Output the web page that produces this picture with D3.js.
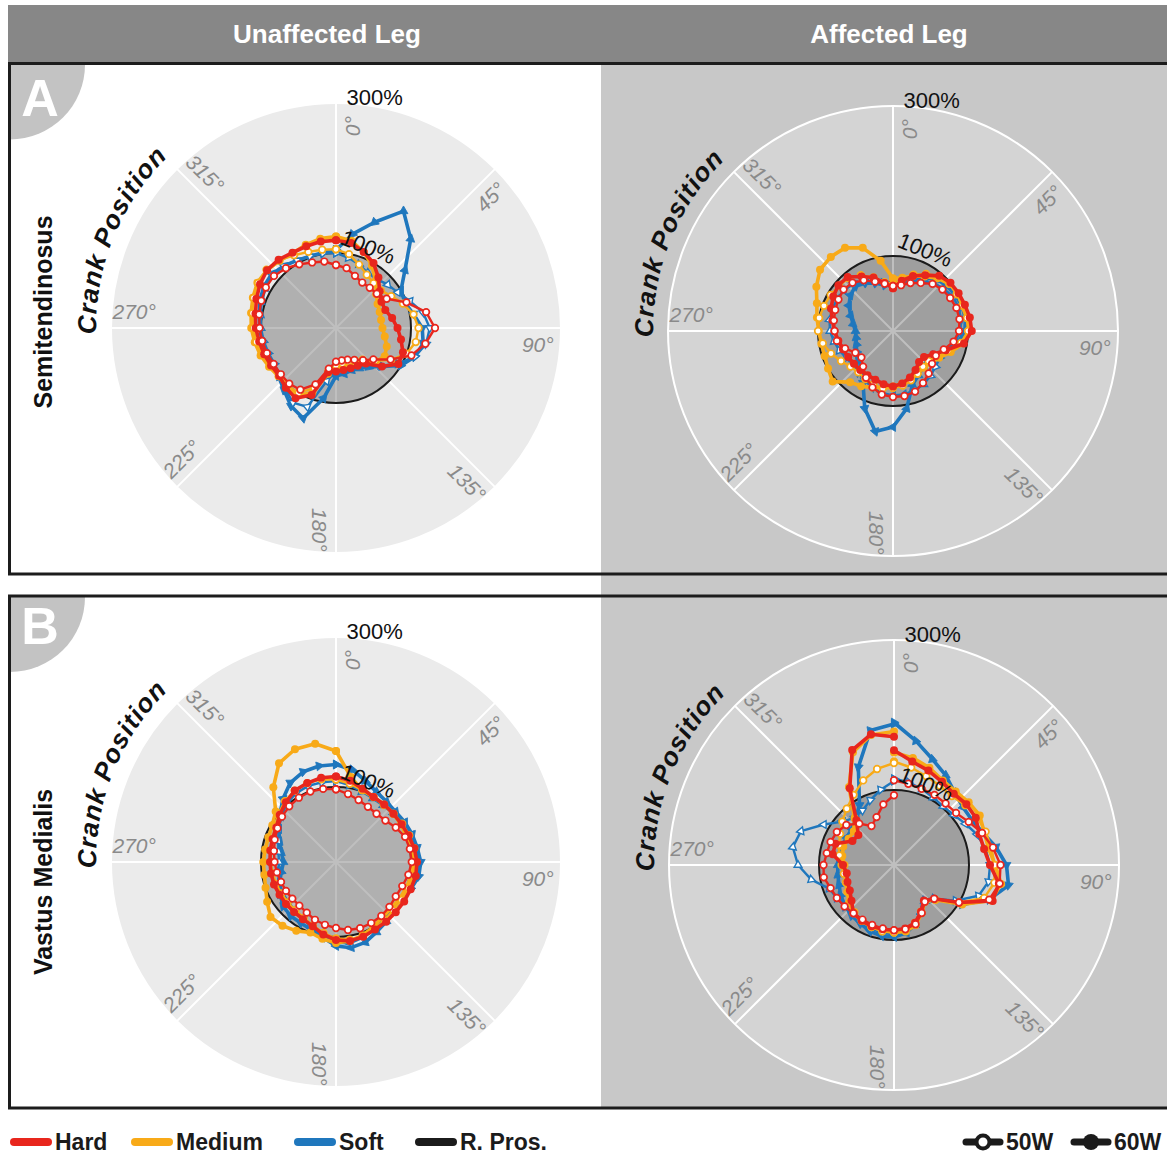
<!DOCTYPE html>
<html>
<head>
<meta charset="utf-8">
<script src="https://cdn.jsdelivr.net/npm/d3@7"></script>
<style>
  body { margin: 0; background: #fff; }
  svg { display: block; font-family: "Liberation Sans", Arial, Helvetica, sans-serif; }
</style>
</head>
<body>
<svg id="fig" width="1167" height="1155"></svg>
<script>
// ---- Crank angles (deg) at which activation is sampled ----
const angles = d3.range(0, 361, 10);

// ---- Labels ----
const columnTitles = ["Unaffected Leg", "Affected Leg"];
const muscleNames = ["Semitendinosus", "Vastus Medialis"];
const panelLetters = ["A", "B"];
const angleTicks = [0, 45, 90, 135, 180, 225, 270, 315];
const radialTicks = [100, 300];
const conditions = ["Hard", "Medium", "Soft"];
const powers = ["50W", "60W"];
const legendItems = ["Hard", "Medium", "Soft", "R. Pros."];

// ---- Normalised EMG (% of reference), Semitendinosus, unaffected leg ----
const semiUnaffHard50   = [84,81,74,70,70,71,78,100,122,132,121,107,84,65,56,49,45,44,45,55,80,95,97,96,96,98,100,102,104,106,108,108,104,98,93,90,84];
const semiUnaffHard60   = [117,115,108,100,88,76,70,70,76,82,88,95,96,80,62,58,57,57,58,60,95,108,104,99,100,102,104,107,109,113,117,120,119,116,116,117,117];
const semiUnaffMedium50 = [105,100,90,82,78,78,85,95,105,110,108,100,85,68,55,50,48,48,50,58,85,100,100,98,100,104,108,110,113,117,120,121,118,112,108,106,105];
const semiUnaffMedium60 = [122,118,108,96,82,70,64,62,61,62,66,72,75,70,60,52,50,50,53,62,92,104,102,100,103,107,110,113,115,118,121,120,117,115,118,121,122];
const semiUnaffSoft50   = [100,95,90,85,85,90,95,105,118,125,122,112,95,78,64,58,56,56,58,72,112,115,105,98,95,96,98,100,102,105,108,110,108,104,102,101,100];
const semiUnaffSoft60   = [104,127,150,180,155,120,100,98,105,115,118,112,100,80,68,62,60,62,64,95,128,120,108,100,97,98,100,102,104,108,111,112,108,104,102,102,104];

// ---- Semitendinosus, affected leg ----
const semiAffHard50   = [60,62,68,74,82,86,88,90,90,88,82,72,66,68,74,80,86,88,88,86,80,72,62,55,58,68,76,78,80,82,84,86,84,78,70,64,60];
const semiAffHard60   = [57,68,78,86,96,100,101,102,104,105,96,75,62,54,54,60,66,71,74,72,69,68,68,68,69,71,74,78,82,88,92,95,94,84,76,65,57];
const semiAffMedium50 = [62,70,80,88,95,98,98,99,100,100,92,78,68,62,62,66,70,74,76,78,76,74,72,74,80,88,95,100,100,98,96,94,92,86,76,66,62];
const semiAffMedium60 = [70,72,78,84,92,98,100,98,100,103,95,82,71,66,64,65,68,71,74,77,80,85,89,105,100,97,97,99,103,108,118,127,129,128,118,95,70];
const semiAffSoft50   = [64,66,70,76,84,88,92,93,92,90,84,76,72,74,78,82,84,86,86,84,80,76,72,70,72,76,80,84,86,86,86,85,82,76,70,66,64];
const semiAffSoft60   = [60,66,74,82,90,94,96,98,98,96,88,74,64,60,62,68,76,105,128,136,110,80,64,60,56,52,50,50,54,60,68,74,78,74,68,62,60];

// ---- Vastus Medialis, unaffected leg ----
const vmUnaffHard50   = [97,92,88,85,84,86,92,98,100,101,98,94,92,93,94,94,94,92,88,85,82,78,76,76,77,78,80,82,84,87,90,94,97,99,100,99,97];
const vmUnaffHard60   = [114,110,104,100,100,100,101,103,106,108,108,106,105,104,104,104,106,107,104,98,91,88,87,87,87,88,88,88,89,90,92,98,104,110,112,114,114];
const vmUnaffMedium50 = [110,106,102,100,99,100,102,104,106,106,105,103,101,100,101,103,105,105,102,96,90,86,84,84,84,85,86,87,88,90,94,100,106,110,112,112,110];
const vmUnaffMedium60 = [148,115,102,100,100,100,100,100,102,103,102,100,98,96,96,100,104,107,108,104,100,106,111,114,106,100,97,97,96,96,98,105,130,152,160,160,148];
const vmUnaffSoft50   = [108,104,100,98,98,100,103,106,108,110,108,104,100,99,100,103,107,110,108,100,93,88,85,83,82,80,78,76,78,82,88,95,102,106,108,108,108];
const vmUnaffSoft60   = [130,125,115,108,105,104,106,108,110,113,112,106,100,100,104,108,114,116,112,102,96,94,94,92,86,80,74,70,74,80,88,98,110,122,128,130,130];

// ---- Vastus Medialis, affected leg ----
const vmAffHard50   = [113,110,108,108,107,108,115,125,134,142,143,135,100,70,64,74,84,87,87,86,85,84,84,86,88,90,95,94,91,90,88,83,72,60,68,82,93];
const vmAffHard60   = [153,140,134,128,124,126,126,121,122,128,142,140,100,70,62,72,82,86,87,87,87,86,84,74,68,66,64,68,83,83,64,62,78,118,163,177,171];
const vmAffMedium50 = [138,132,126,122,120,124,128,130,132,134,136,128,100,72,64,72,82,88,90,90,88,86,82,76,70,68,68,70,74,78,83,90,98,108,120,130,136];
const vmAffMedium60 = [150,145,138,130,128,130,132,128,128,135,145,138,105,72,64,74,85,90,90,88,88,86,84,78,72,68,66,66,70,72,70,70,82,120,160,176,178];
const vmAffSoft50   = [115,112,108,104,102,104,110,118,124,128,128,120,95,70,64,72,84,90,92,92,90,88,86,86,88,92,112,128,137,132,108,90,82,84,92,102,112];
const vmAffSoft60   = [190,168,150,138,126,120,120,126,138,150,155,135,105,70,62,72,84,92,96,96,94,90,88,85,82,78,76,75,75,74,73,74,80,92,139,182,188];

// ---- Series tables built from the arrays above ----
const panelSeries = [
  { Hard: [semiUnaffHard50, semiUnaffHard60], Medium: [semiUnaffMedium50, semiUnaffMedium60], Soft: [semiUnaffSoft50, semiUnaffSoft60] },
  { Hard: [semiAffHard50, semiAffHard60],     Medium: [semiAffMedium50, semiAffMedium60],     Soft: [semiAffSoft50, semiAffSoft60] },
  { Hard: [vmUnaffHard50, vmUnaffHard60],     Medium: [vmUnaffMedium50, vmUnaffMedium60],     Soft: [vmUnaffSoft50, vmUnaffSoft60] },
  { Hard: [vmAffHard50, vmAffHard60],         Medium: [vmAffMedium50, vmAffMedium60],         Soft: [vmAffSoft50, vmAffSoft60] }
];

const colors = { Hard: "#e8261d", Medium: "#f8aa18", Soft: "#1f77bd", "R. Pros.": "#1b1b1b" };

const W = 1167, H = 1155;
const svg = d3.select("#fig");

const R = 225;
const rScale = d3.scaleLinear().domain([0, 300]).range([0, R]);
const rad = d => d * Math.PI / 180;

// ---- Background blocks ----
svg.append("rect").attr("width", W).attr("height", H).attr("fill", "#fff");
svg.append("rect").attr("x", 601).attr("y", 62).attr("width", W - 601).attr("height", 1046).attr("fill", "#c8c8c8");
svg.append("rect").attr("x", 8).attr("y", 5).attr("width", W - 8).attr("height", 57).attr("fill", "#878787");

const colCenters = [327, 889];
columnTitles.forEach((t, i) => {
  svg.append("text").attr("x", colCenters[i]).attr("y", 43)
    .attr("text-anchor", "middle").attr("fill", "#fff")
    .attr("font-size", 26).attr("font-weight", "bold").text(t);
});

// ---- Polar panels ----
const layout = [
  { cx: 336, cy: 328, dark: false },
  { cx: 893, cy: 331, dark: true },
  { cx: 336, cy: 862, dark: false },
  { cx: 894, cy: 865, dark: true }
];

const lineRadial = d3.lineRadial()
  .angle((d, i) => rad(angles[i]))
  .radius(d => rScale(d));

const drawOrder = [["Soft", 1], ["Soft", 0], ["Medium", 1], ["Medium", 0], ["Hard", 1], ["Hard", 0]];

layout.forEach((p, pi) => {
  const g = svg.append("g").attr("transform", `translate(${p.cx},${p.cy})`);

  g.append("circle").attr("r", rScale(300))
    .attr("fill", p.dark ? "#d4d4d4" : "#ebebeb")
    .attr("stroke", "#fff").attr("stroke-width", 2);

  angleTicks.forEach(t => {
    const [x, y] = d3.pointRadial(rad(t), rScale(300));
    g.append("line").attr("x1", 0).attr("y1", 0).attr("x2", x).attr("y2", y)
      .attr("stroke", "#fff").attr("stroke-width", 2);
  });

  // Reference prosthesis level (100 %)
  g.append("circle").attr("r", rScale(100))
    .attr("fill", "rgba(0,0,0,0.25)")
    .attr("stroke", colors["R. Pros."]).attr("stroke-width", 2);

  // Angular tick labels
  angleTicks.forEach(t => {
    const [x, y] = d3.pointRadial(rad(t + 4.7), rScale(270));
    let rot = t - 90;
    if (rot > 90) rot -= 180;
    g.append("text")
      .attr("transform", `translate(${x},${y}) rotate(${rot})`)
      .attr("text-anchor", "middle").attr("dominant-baseline", "central")
      .attr("font-size", 21).attr("font-style", "italic").attr("fill", "#8a8a8a")
      .text(t + "°");
  });

  // "Crank Position" along the arc on the left
  const a0 = rad(268.5), a1 = rad(340), rr = 240;
  const [sx, sy] = d3.pointRadial(a0, rr);
  const [ex, ey] = d3.pointRadial(a1, rr);
  const arcId = "crankArc" + pi;
  g.append("path").attr("id", arcId)
    .attr("d", `M${sx},${sy} A${rr},${rr} 0 0 1 ${ex},${ey}`)
    .attr("fill", "none");
  g.append("text").attr("font-size", 26).attr("font-weight", "bold").attr("font-style", "italic")
    .attr("letter-spacing", 1).attr("fill", "#111")
    .append("textPath").attr("href", "#" + arcId).text("Crank Position");

  // Series
  const series = panelSeries[pi];
  drawOrder.forEach(([cond, pw]) => {
    const vals = series[cond][pw];
    const col = colors[cond];
    const filled = pw === 1;
    g.append("path").attr("d", lineRadial(vals))
      .attr("fill", "none").attr("stroke", col)
      .attr("stroke-width", filled ? 3.6 : 2.4)
      .attr("stroke-linejoin", "round");
    const pts = vals.map((v, i) => d3.pointRadial(rad(angles[i]), rScale(v)));
    if (cond === "Soft") {
      const sym = d3.symbol(d3.symbolTriangle).size(filled ? 34 : 26);
      g.selectAll(null).data(pts).join("path")
        .attr("d", sym)
        .attr("transform", (d, i) => `translate(${d[0]},${d[1]}) rotate(${angles[i] + 90})`)
        .attr("fill", filled ? col : "#fff")
        .attr("stroke", col).attr("stroke-width", filled ? 0.8 : 1.4);
    } else {
      g.selectAll(null).data(pts).join("circle")
        .attr("cx", d => d[0]).attr("cy", d => d[1])
        .attr("r", filled ? 4 : 3.3)
        .attr("fill", filled ? col : "#fff")
        .attr("stroke", col).attr("stroke-width", filled ? 0 : 1.7);
    }
  });

  // Radial tick labels
  const [lx3, ly3] = d3.pointRadial(rad(9.5), rScale(312));
  g.append("text").attr("x", lx3).attr("y", ly3)
    .attr("text-anchor", "middle").attr("dominant-baseline", "central")
    .attr("font-size", 22).attr("fill", "#111").text(radialTicks[1] + "%");
  const [lx1, ly1] = d3.pointRadial(rad(21.6), rScale(116));
  g.append("text").attr("transform", `translate(${lx1},${ly1}) rotate(22)`)
    .attr("text-anchor", "middle").attr("dominant-baseline", "central")
    .attr("font-size", 22).attr("fill", "#111").text(radialTicks[0] + "%");
});

// ---- Panel frames, letters and row labels ----
const frames = [{ y: 63.5, h: 510.5 }, { y: 596, h: 512 }];
frames.forEach((f, i) => {
  const x0 = 10, y0 = f.y + 1, rc = 75;
  svg.append("path")
    .attr("d", `M${x0},${y0} L${x0 + rc},${y0} A${rc},${rc} 0 0 1 ${x0},${y0 + rc} Z`)
    .attr("fill", "#c3c3c3");
  svg.append("text").attr("x", 40).attr("y", f.y + (i === 0 ? 52 : 48))
    .attr("text-anchor", "middle").attr("fill", "#fff")
    .attr("font-size", 52).attr("font-weight", "bold").text(panelLetters[i]);
  svg.append("rect").attr("x", 9.5).attr("y", f.y).attr("width", W + 20).attr("height", f.h)
    .attr("fill", "none").attr("stroke", "#1c1c1c").attr("stroke-width", 3);
});

const rowCenters = [312, 882];
muscleNames.forEach((m, i) => {
  svg.append("text").attr("transform", `translate(52,${rowCenters[i]}) rotate(-90)`)
    .attr("text-anchor", "middle").attr("fill", "#111")
    .attr("font-size", 25).attr("font-weight", "bold").text(m);
});

// ---- Legend ----
const ly = 1142;
const legX = [14, 135, 298, 419];
legendItems.forEach((name, i) => {
  svg.append("line").attr("x1", legX[i]).attr("x2", legX[i] + 34).attr("y1", ly).attr("y2", ly)
    .attr("stroke", colors[name]).attr("stroke-width", 8).attr("stroke-linecap", "round");
  svg.append("text").attr("x", legX[i] + 41).attr("y", ly + 8)
    .attr("font-size", 23).attr("font-weight", "bold").attr("fill", "#1b1b1b").text(name);
});
const powX = [966, 1074];
powers.forEach((pw, i) => {
  const x = powX[i];
  svg.append("line").attr("x1", x).attr("x2", x + 34).attr("y1", ly).attr("y2", ly)
    .attr("stroke", "#1b1b1b").attr("stroke-width", 7).attr("stroke-linecap", "round");
  svg.append("circle").attr("cx", x + 17).attr("cy", ly).attr("r", i === 0 ? 6.5 : 8)
    .attr("fill", i === 0 ? "#fff" : "#1b1b1b")
    .attr("stroke", "#1b1b1b").attr("stroke-width", i === 0 ? 4 : 0);
  svg.append("text").attr("x", x + 40).attr("y", ly + 8)
    .attr("font-size", 23).attr("font-weight", "bold").attr("fill", "#1b1b1b").text(pw);
});
</script>
</body>
</html>
